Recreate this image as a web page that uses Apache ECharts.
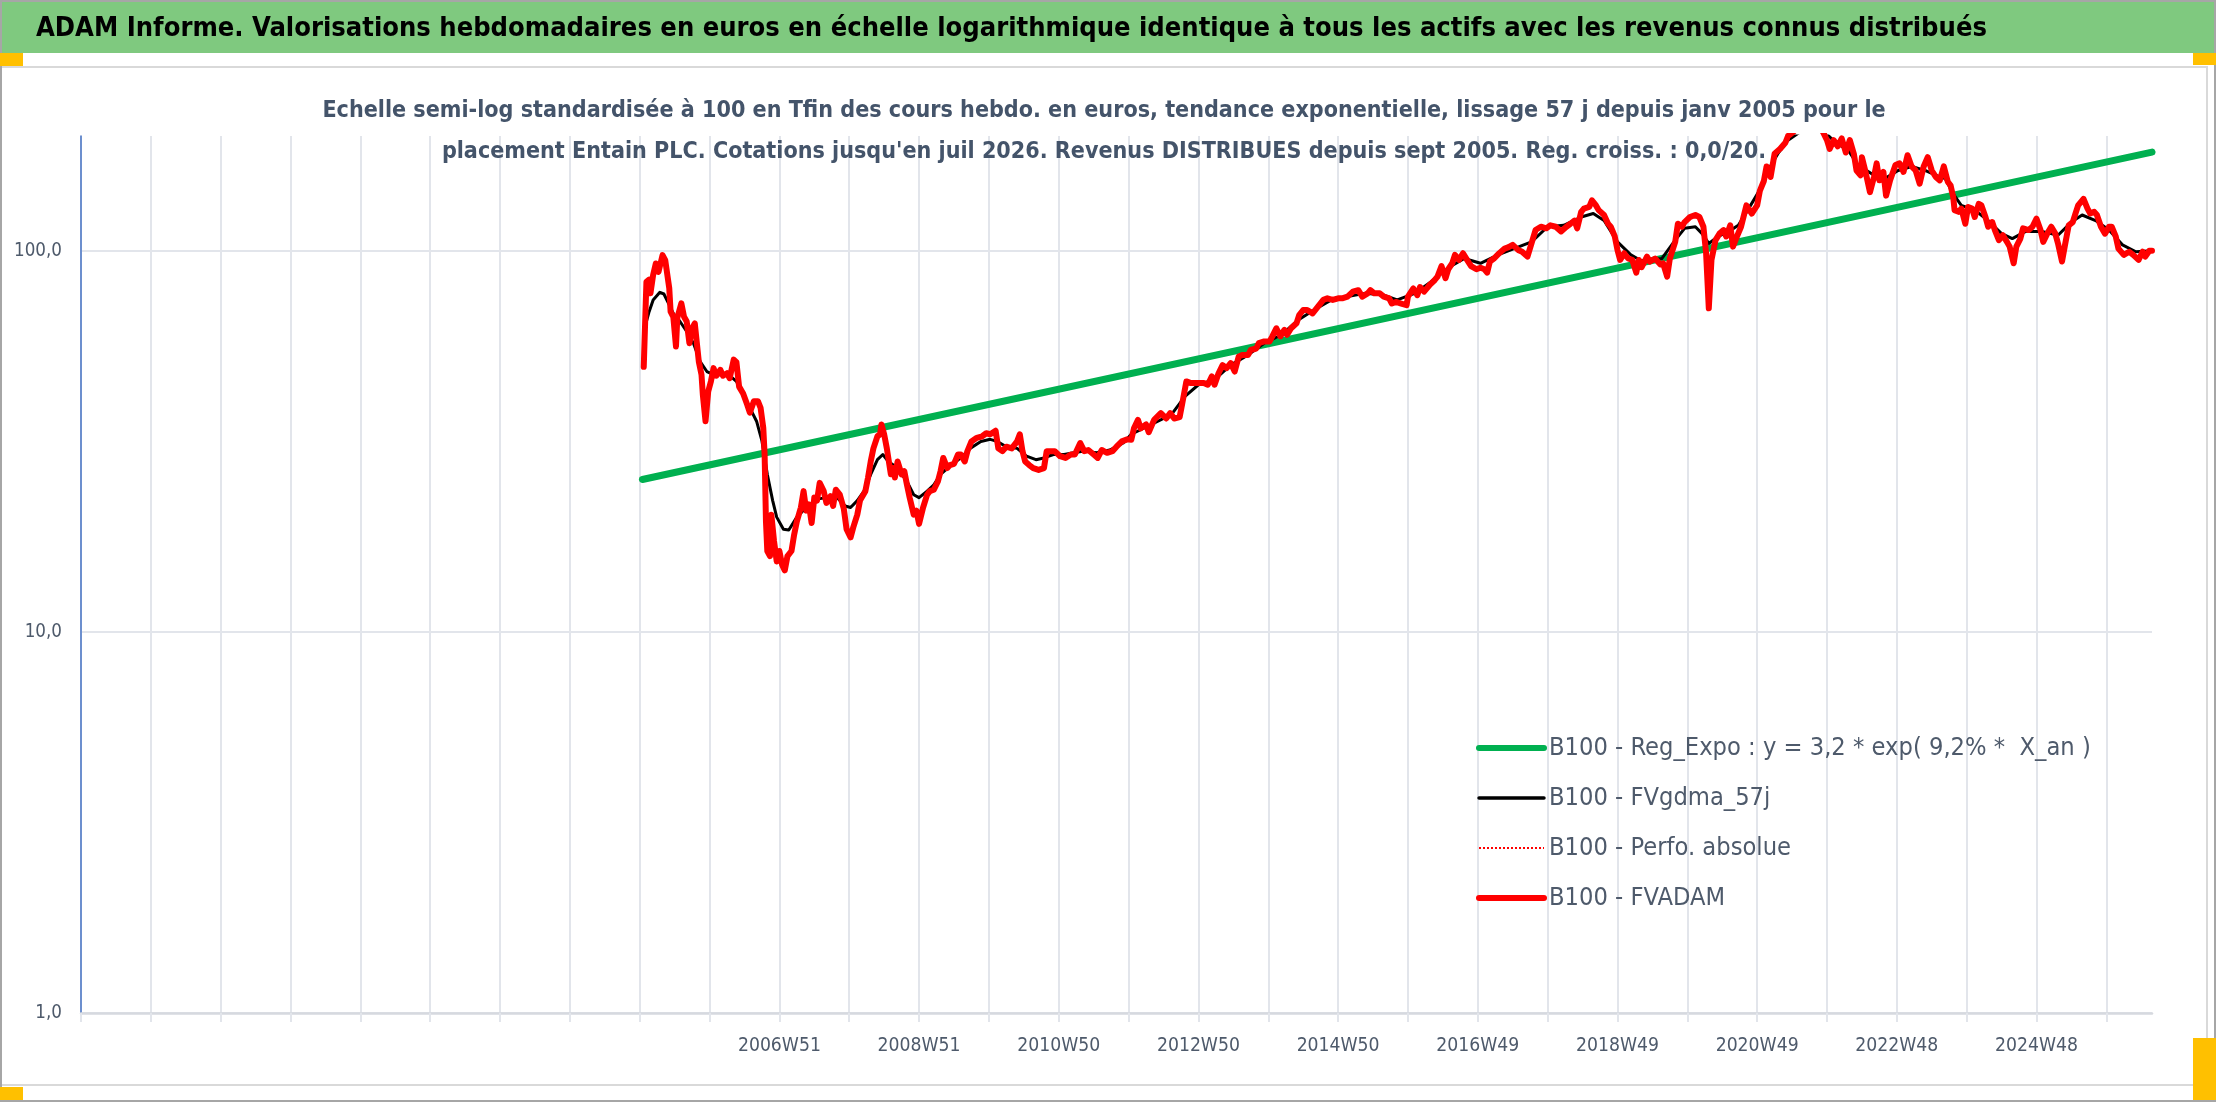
<!DOCTYPE html>
<html>
<head>
<meta charset="utf-8">
<script src="https://cdn.jsdelivr.net/npm/echarts@6/dist/echarts.min.js"></script>
<style>
html,body{margin:0;padding:0;background:#ffffff;}
#chart{width:2216px;height:1102px;}
</style>
</head>
<body>
<div id="chart"></div>
<script>
// ---------------- DATA ----------------
const mainTitle = "ADAM Informe. Valorisations hebdomadaires en euros en échelle logarithmique identique à tous les actifs avec les revenus connus distribués";
const subTitleLines = [
  "Echelle semi-log standardisée à 100 en Tfin des cours hebdo. en euros, tendance exponentielle, lissage 57 j depuis janv 2005 pour le",
  "placement Entain PLC. Cotations jusqu'en juil 2026. Revenus DISTRIBUES depuis sept 2005. Reg. croiss. : 0,0/20."
];
const seriesNames = [
  "B100 - Reg_Expo : y = 3,2 * exp( 9,2% *  X_an )",
  "B100 - FVgdma_57j",
  "B100 - Perfo. absolue",
  "B100 - FVADAM"
];
// weekly categories: first week Monday and number of weeks
const firstWeekMonday = "1996-12-30";
const weekCount = 1543;
// labelled ticks on the category axis
const tickLabels = ["2006W51","2008W51","2010W50","2012W50","2014W50","2016W49","2018W49","2020W49","2022W48","2024W48"];
const yTickValues = [1, 10, 100];

// week offsets (since first category) and values
const regWeek  = [418, 1542];
const regValue = [25.1, 181.5];

const gdmaWeek = [419,423,426,431,434,438,441,446,451,456,461,466,471,479,483,488,493,498,503,507,511,515,518,523,527,533,541,548,555,563,569,573,578,583,588,593,597,601,608,615,620,624,630,635,640,647,655,662,670,677,682,689,697,704,711,717,724,732,739,747,756,766,776,782,797,812,822,832,844,856,869,881,894,906,918,931,943,956,970,980,993,1005,1018,1030,1042,1055,1067,1080,1092,1104,1117,1126,1134,1144,1154,1162,1177,1187,1194,1202,1207,1212,1219,1227,1234,1241,1249,1256,1264,1271,1280,1290,1298,1306,1316,1323,1333,1343,1353,1363,1373,1381,1388,1394,1400,1410,1420,1430,1438,1448,1460,1472,1482,1490,1500,1510,1520,1530,1542];
const gdmaValue = [61.4,69.2,74.3,77.8,77,72.1,68.5,65.2,61.4,57.2,51.2,48.2,47.3,47.3,47,45.4,41.9,38.7,35.7,31.7,25.9,22.1,20,18.6,18.5,20,21.4,22.3,22.5,22.5,21.4,21.2,22.1,23.4,25.9,28.3,29.2,28,26.9,24.8,22.9,22.5,23.4,24.3,25.9,27.2,28.6,30.3,31.6,32,31.6,30.6,30.3,28.9,28.3,28.6,29.2,29.2,29.5,29.8,29.5,30,31.3,33,35,37.2,41.5,44.5,45.9,50.1,53.3,57.2,60.2,65.7,69.9,74.3,75.8,77.3,76.5,74.3,77.3,82.8,90.2,95.4,92.7,97.5,101.3,105.5,115.6,116.6,122.6,125.2,120,105.5,97.5,94,95.4,106.6,114.5,115.6,110.9,104.5,109,112.4,116.6,127.8,142.5,162.4,181,195,205,212,205,193,183,167.9,159.4,154.6,162.4,166.4,162.4,157.8,154.6,141,131.5,127.8,120,110.9,107.6,112.4,112.4,109.8,118.9,124.1,120,113.3,103.6,99.4,100];

const fvadamWeek = [419,421,423,424,426,428,430,433,435,438,439,441,443,444,447,449,451,453,455,457,460,462,463,465,467,469,471,473,476,478,481,483,486,488,490,493,496,498,501,504,506,508,509,510,511,513,514,516,518,520,522,524,526,529,531,533,536,538,540,542,544,546,548,550,553,555,558,560,562,565,568,570,573,575,578,580,584,586,588,590,593,595,596,598,600,603,605,606,608,611,613,615,617,620,622,624,625,627,630,632,635,638,640,642,645,647,650,653,655,658,660,663,667,671,674,677,681,683,686,689,693,697,699,701,703,706,709,713,717,719,722,725,729,733,737,740,744,747,750,754,757,760,764,768,771,775,779,
782,784,787,789,793,795,799,804,808,811,814,818,820,823,826,831,836,839,842,844,847,850,853,856,859,862,865,869,871,875,877,881,885,887,890,893,896,898,901,905,907,910,913,917,921,925,928,932,936,939,943,947,951,954,958,960,963,967,970,974,976,979,983,987,988,992,995,997,1000,1004,1008,1010,1013,1016,1018,1021,1023,1026,1029,1032,1035,1039,1042,1045,1047,1049,1052,1056,1060,1063,1066,1070,1073,1077,1080,1083,1087,1091,1094,1098,1102,1106,1109,1112,1114,1117,1119,1123,1125,1128,1130,1134,1137,1139,1142,1144,1146,1149,1152,1155,1158,1160,
1162,1166,1168,1172,1176,1178,1181,1183,1187,1189,1192,1194,1198,1202,1205,1208,1210,1212,1214,1217,1220,1223,1225,1228,1230,1233,1236,1240,1244,1248,1250,1253,1255,1258,1261,1265,1269,1271,1275,1280,1286,1292,1297,1300,1302,1305,1308,1311,1314,1317,1320,1322,1325,1326,1329,1332,1335,1337,1339,1342,1344,1347,1351,1354,1357,1360,1363,1366,1369,1372,1375,1378,1381,1384,1387,1390,1392,1394,1395,1398,1400,1403,1405,1408,1410,1413,1415,1418,1420,1423,1425,1428,1431,1434,1436,1439,1441,1444,1446,1450,1453,1456,1459,1461,1464,1467,1470,1472,1475,1477,1480,1483,1485,1487,1491,1494,1496,1499,1501,1504,1507,1510,1512,1515,1517,1521,1525,1528,1532,1535,1537,1540,1542];
const fvadamValue = [49.6,82.9,84,77.3,86.4,92.6,88,97.4,94.5,79.7,69.2,67.1,56.1,66.7,72.8,67.1,65.2,57.2,62.6,64.5,51.2,47.3,41.9,35.7,42.7,45.4,49.2,47,48.7,47,47.7,46.3,51.8,51,44,42.2,39.5,37.6,40.3,40.3,38.7,34.3,29.2,19.5,16.3,15.8,20.3,17.3,15.3,16.3,15,14.5,15.8,16.3,18,19.5,21.2,23.4,20.8,21.6,19.3,22.5,22.1,24.6,23.4,21.8,22.7,21.4,23.6,22.9,21,18.6,17.7,18.8,20.3,22.1,23.4,25.4,28,30.3,32.6,33,35,33,30.3,25.9,26.9,25.4,28,25.9,26.4,24.3,22.5,20.3,20.8,19.2,19,21.2,22.9,23.4,23.6,24.8,26.4,28.6,26.9,27.4,27.6,29.2,29.2,28,29.8,31.6,32.3,32.6,33.2,33,33.7,30.3,29.8,30.6,30.3,31.6,33,29.8,28,27.4,26.9,26.6,26.9,29.8,29.8,29.8,28.9,28.6,29.2,29.2,31.3,29.8,30,29.2,28.6,30,29.5,29.8,30.6,31.6,32,
31.9,34.2,36,34.2,35,33.4,36,37.5,36.3,37.5,36.3,36.6,39.8,45.4,45,45,45,44.5,46.8,44.5,47.7,50.1,49.2,50.7,48.2,52.8,53.3,53.3,54.9,55.4,57.2,57.8,57.8,59.6,62.6,59.6,62,60.2,62.6,64.5,67.8,69.9,69.9,68.5,71.3,74.3,75,74.3,75,75,75.8,78.1,78.8,75.8,77.3,78.8,77.3,77.3,75.8,75,72.7,73.4,72.7,72,75.8,79.6,76.5,80.3,78.1,81.2,83.8,85.5,91.1,84.7,89.4,92.7,97.5,94.6,98.5,94.6,91.1,89.4,90.2,89.4,87.6,93.7,95.4,98.5,101.3,102.2,103.6,100.5,99.4,96.5,104.5,113.3,115.6,114.5,116.6,115.6,112.4,115.6,117.7,120,114.5,126.5,129,130.3,135.6,131.5,127.8,124.1,117.7,115.6,109,100.5,94.6,98.5,95.4,94.6,87.6,94.6,
90.5,96.5,93.7,95.4,92,92.7,85.5,95.4,105.5,117.7,115.6,118.9,122.6,124.1,122.6,115.6,98.5,70.6,94.6,106.6,110.9,113.3,109,116.6,102.5,109,115.6,131.5,125.2,131.5,143.6,152.4,166.4,156.2,179.6,185,192,200,205,215,228,215,205,195,185,195,188,197,181,195,179.6,162.4,157.8,176,159.4,142.5,156.2,169.5,153,161,139.5,153,167.9,169.5,161,178,166.4,162.4,150,166.4,176,162.4,156.2,153,166.4,151.5,148.5,138.2,127.8,126.5,129,117.7,130.3,129,122.6,132.8,131.5,122.6,115.6,118.9,113.3,106.6,109.8,105.5,102.5,92.7,102.5,107.6,114.5,113.3,115.6,121.4,113.3,105.5,110.9,115.6,110.9,104.5,93.7,102.5,116.6,118.9,125.2,131.5,136.8,129,125.2,126.5,124.1,115.6,110.9,115.6,115.6,109,101.3,97.5,99.4,97.5,94.6,99.4,96.5,100,100];

// ---------------- HELPERS ----------------
function isoWeekLabel(date) {
  const t = new Date(Date.UTC(date.getUTCFullYear(), date.getUTCMonth(), date.getUTCDate()));
  const dayNum = t.getUTCDay() || 7;
  t.setUTCDate(t.getUTCDate() + 4 - dayNum);
  const yearStart = Date.UTC(t.getUTCFullYear(), 0, 1);
  const wk = Math.ceil(((t - yearStart) / 86400000 + 1) / 7);
  return t.getUTCFullYear() + "W" + String(wk).padStart(2, "0");
}
const weekCategories = [];
(function () {
  const start = new Date(firstWeekMonday + "T00:00:00Z");
  for (let i = 0; i < weekCount; i++) {
    weekCategories.push(isoWeekLabel(new Date(start.getTime() + i * 7 * 86400000)));
  }
})();
const pairs = (w, v) => w.map((x, i) => [x, v[i]]);

// font choice and size fitting
const mctx = document.createElement("canvas").getContext("2d");
function hasFont(f) {
  const probe = "abcdefghijklmnopqrstuvwxyz0123456789ABCDEFGHIJ";
  mctx.font = "100px monospace";
  const a = mctx.measureText(probe).width;
  mctx.font = "100px '" + f + "', monospace";
  const b = mctx.measureText(probe).width;
  return Math.abs(a - b) > 0.5;
}
const FAMILY = ["Liberation Sans Narrow", "DejaVu Sans Condensed", "Lato", "Liberation Sans"].find(hasFont) || "sans-serif";
function fit(text, weight, target) {
  mctx.font = weight + " 100px '" + FAMILY + "'";
  return 100 * target / mctx.measureText(text).width;
}
const titleSize = fit(mainTitle, "bold", 1952);
const subSize = fit(subTitleLines[0], "bold", 1564);
const legendSize = fit(seriesNames[0], "normal", 542);
const xLabSize = fit("2006W51", "normal", 83);
const yLabSize = fit("100,0", "normal", 48);

const GRID_COLOR = "#E2E5EB";
const TEXT_COLOR = "#4E5A6B";
const GREEN = "#00B050", BLACK = "#000000", RED = "#FF0000";

// ---------------- CHART ----------------
const chart = echarts.init(document.getElementById("chart"), null, { renderer: "canvas" });
const legendLH = 30;
chart.setOption({
  animation: false,
  backgroundColor: "#ffffff",
  textStyle: { fontFamily: FAMILY },
  graphic: [
    { type: "rect", z: -1, shape: { x: 0, y: 0, width: 2216, height: 53 }, style: { fill: "#7FC97F" } },
    { type: "rect", z: -1, shape: { x: -2, y: 67, width: 2209, height: 1018 }, style: { fill: "none", stroke: "#D9D9D9", lineWidth: 2 } },
    { type: "rect", z: -1, shape: { x: 1, y: 1, width: 2214, height: 1100 }, style: { fill: "none", stroke: "#A6A6A6", lineWidth: 2 } },
    { type: "rect", z: -1, shape: { x: 0, y: 53, width: 23, height: 13 }, style: { fill: "#FFC000" } },
    { type: "rect", z: -1, shape: { x: 2193, y: 53, width: 23, height: 12 }, style: { fill: "#FFC000" } },
    { type: "rect", z: -1, shape: { x: 0, y: 1087, width: 23, height: 13 }, style: { fill: "#FFC000" } },
    { type: "rect", z: -1, shape: { x: 2193, y: 1038, width: 23, height: 62 }, style: { fill: "#FFC000" } }
  ],
  title: [
    {
      text: mainTitle,
      left: 36, top: 29 - titleSize / 2, padding: 0,
      textStyle: { fontFamily: FAMILY, fontWeight: "bold", fontSize: titleSize, lineHeight: titleSize, color: "#000000" }
    },
    {
      text: subTitleLines.join("\n"),
      left: 1104, top: 110.5 - 41.5 / 2, padding: 0, textAlign: "center",
      textStyle: { fontFamily: FAMILY, fontWeight: "bold", fontSize: subSize, lineHeight: 41.5, color: "#44546A" }
    }
  ],
  legend: {
    orient: "vertical", left: 1476, top: 748 - legendLH / 2, padding: 0,
    itemWidth: 65, itemHeight: 14, itemGap: 50 - legendLH,
    selectedMode: false,
    itemStyle: { opacity: 0 },
    textStyle: { fontFamily: FAMILY, fontSize: legendSize, lineHeight: legendLH, color: TEXT_COLOR },
    data: [
      { name: seriesNames[0], lineStyle: { color: GREEN, width: 6, type: "solid", cap: "round" } },
      { name: seriesNames[1], lineStyle: { color: BLACK, width: 3.5, type: "solid", cap: "round" } },
      { name: seriesNames[2], lineStyle: { color: RED, width: 2, type: "dotted" } },
      { name: seriesNames[3], lineStyle: { color: RED, width: 6, type: "solid", cap: "round" } }
    ]
  },
  grid: { left: 81, right: 64, top: 136, bottom: 89, containLabel: false, outerBoundsMode: "none" },
  xAxis: {
    type: "category",
    data: weekCategories,
    boundaryGap: false,
    axisLine: { show: true, onZero: false, lineStyle: { color: "#D6D9DF", width: 2.5 } },
    axisTick: { show: true, interval: (i) => i % 52 === 0, length: 9, lineStyle: { color: GRID_COLOR, width: 2 } },
    splitLine: { show: true, interval: (i) => i % 52 === 0, lineStyle: { color: GRID_COLOR, width: 2 } },
    axisLabel: {
      interval: (i, v) => tickLabels.indexOf(v) >= 0,
      fontFamily: FAMILY, fontSize: xLabSize, color: TEXT_COLOR,
      margin: 33.5 - xLabSize / 2
    }
  },
  yAxis: {
    type: "log", logBase: 10, min: 1, max: 200,
    axisLine: { show: true, lineStyle: { color: "#4472C4", width: 1.5 } },
    axisTick: { show: false },
    splitLine: { show: true, showMaxLine: false, lineStyle: { color: GRID_COLOR, width: 2 } },
    axisLabel: {
      showMaxLabel: false,
      margin: 19,
      fontFamily: FAMILY, fontSize: yLabSize, color: TEXT_COLOR,
      formatter: (v) => {
        const r = Math.round(v * 10) / 10;
        return yTickValues.indexOf(r) >= 0 ? r.toFixed(1).replace(".", ",") : "";
      }
    }
  },
  series: [
    {
      name: seriesNames[0], type: "line", symbol: "none", z: 2,
      data: pairs(regWeek, regValue),
      itemStyle: { color: GREEN },
      lineStyle: { color: GREEN, width: 7, cap: "round" }
    },
    {
      name: seriesNames[1], type: "line", symbol: "none", z: 3,
      data: pairs(gdmaWeek, gdmaValue),
      itemStyle: { color: BLACK },
      lineStyle: { color: BLACK, width: 3, cap: "round", join: "round" }
    },
    {
      name: seriesNames[2], type: "line", symbol: "none", z: 3,
      data: pairs(fvadamWeek, fvadamValue),
      itemStyle: { color: RED },
      lineStyle: { color: RED, width: 2, type: "dotted" }
    },
    {
      name: seriesNames[3], type: "line", symbol: "none", z: 4,
      data: pairs(fvadamWeek, fvadamValue),
      itemStyle: { color: RED },
      lineStyle: { color: RED, width: 6, cap: "round", join: "round" }
    }
  ]
});
</script>
</body>
</html>
